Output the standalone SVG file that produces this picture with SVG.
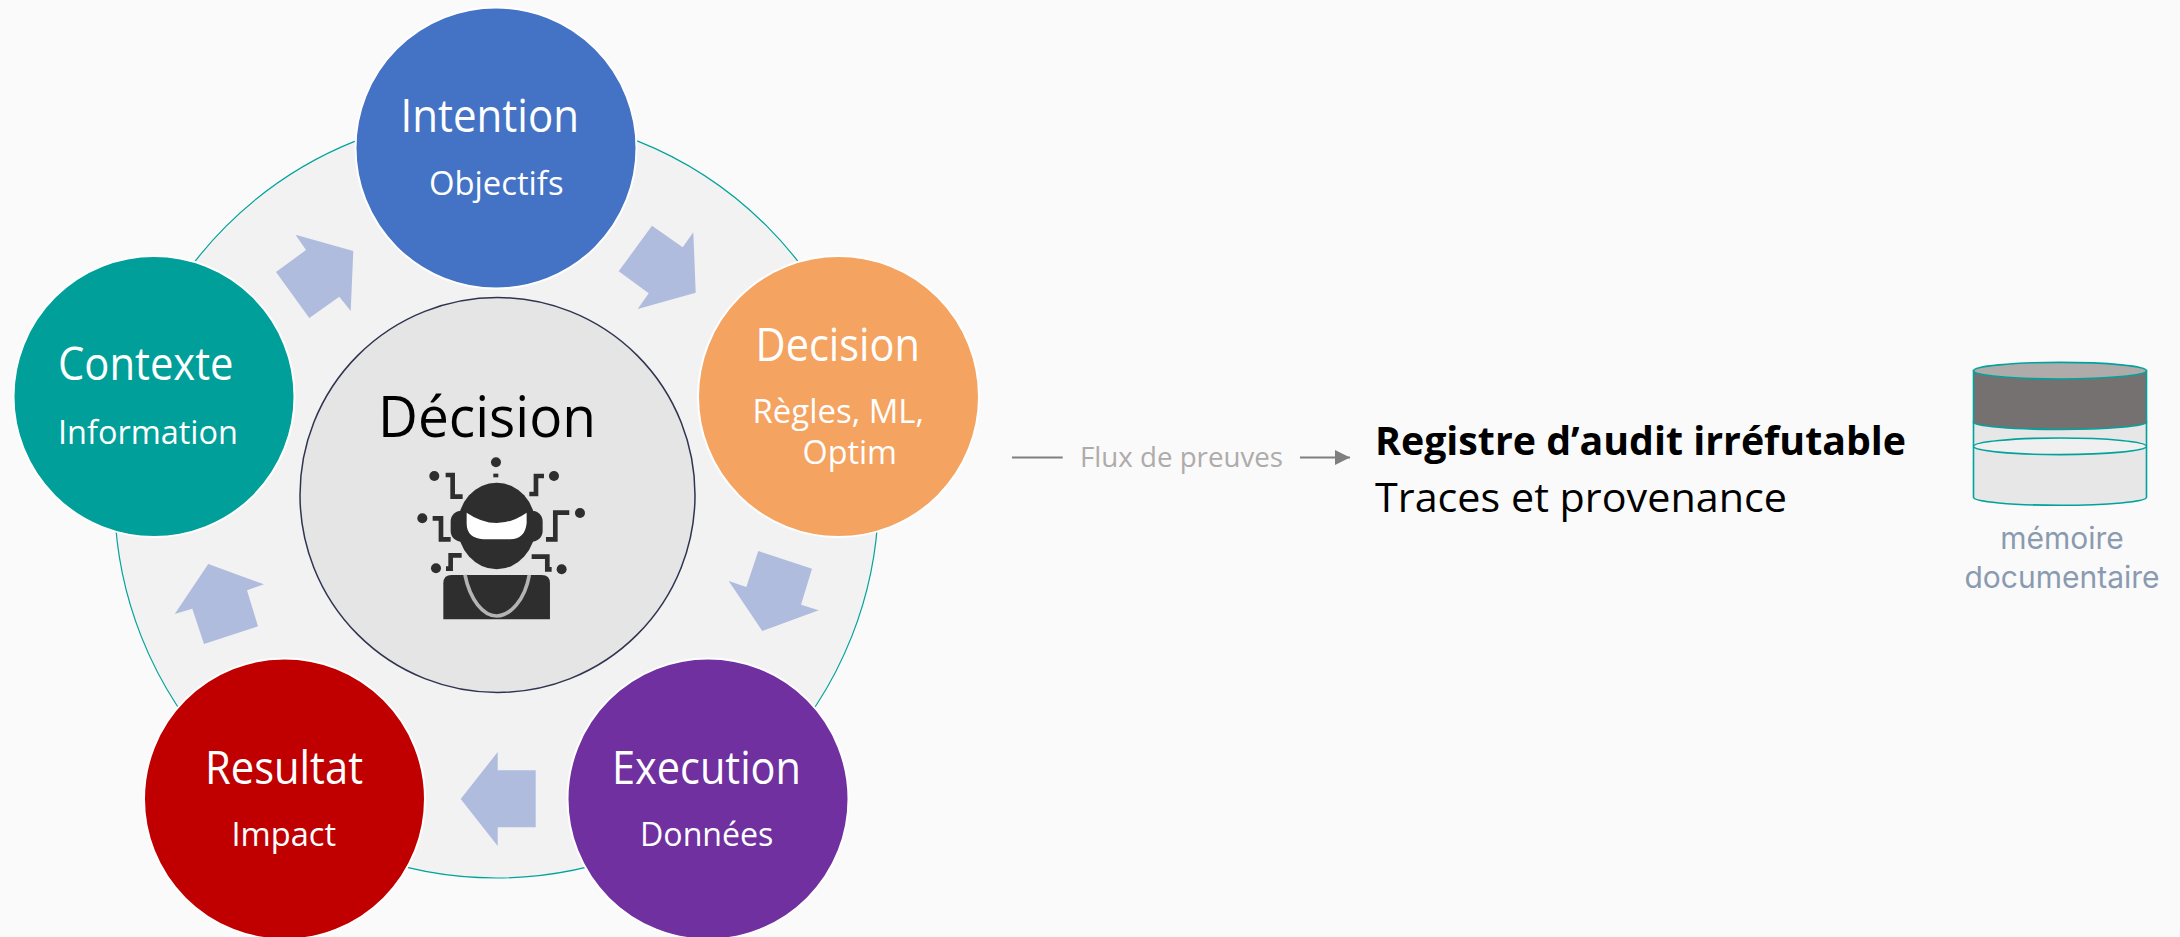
<svg xmlns="http://www.w3.org/2000/svg" width="2180" height="937" viewBox="0 0 2180 937">
<style>
.n{stroke:#fff;stroke-width:2}
.t{font-family:"Open Sans","Noto Sans",sans-serif;fill:#fff}
.h{font-size:45px}
.s{font-size:33px}
.c{fill:#b0bcde}
.w{fill:none;stroke:#2e2e2e;stroke-width:14}
.d{fill:#2e2e2e}
.cy{stroke:#00a39b;stroke-width:1.600}
.m{font-family:Inter,"Noto Sans",sans-serif;font-size:30px;fill:#8a9ab0;text-anchor:middle}
.r{font-family:"Open Sans","Noto Sans",sans-serif;font-size:40px;fill:#000}
</style>
<defs>
<filter id="soft" x="-5%" y="-5%" width="110%" height="110%"><feGaussianBlur stdDeviation="1.600"/></filter>
<marker id="ah" markerUnits="userSpaceOnUse" markerWidth="16" markerHeight="16" refX="15" refY="8" orient="auto"><path d="M0 0.500L15 8L0 15.500Z" fill="#7f7f7f"/></marker>
</defs>
<rect width="2180" height="937" fill="#fafafa"/>
<circle id="ring" cx="496.500" cy="496" r="382" fill="#f2f2f2" stroke="#00a39b" stroke-width="1.200"/>
<g id="connectors">
<polygon class="c" points="295.500,234.700 353.300,251 350.700,311 339.300,296.700 309.300,318 276,272 306,250"/>
<polygon class="c" points="652,225.700 682.700,247.300 693.300,232.300 695.700,292.700 637.700,309 648.700,293.300 618.700,271.300"/>
<polygon class="c" points="758.300,551 812,568.700 801,604.700 818.700,610.300 762.300,631 728.700,581 746.300,587"/>
<polygon class="c" points="497.700,752 497.700,770.300 535.700,770.300 535.700,827.300 497.700,827.300 497.700,846 460.700,799"/>
<polygon class="c" points="208.300,564 264,584.300 247,590.300 258,626.300 204,644 192.300,608.700 174.700,614"/>
<line x1="1012" y1="457.500" x2="1062.700" y2="457.500" stroke="#7f7f7f" stroke-width="2"/>
<line x1="1300" y1="457.500" x2="1350" y2="457.500" stroke="#7f7f7f" stroke-width="2" marker-end="url(#ah)"/>
</g>
<g id="node-intention">
<circle class="n" cx="496" cy="148" r="140.500" fill="#4472c4"/>
<text class="t h" x="400.500" y="131.500" textLength="178.500" lengthAdjust="spacingAndGlyphs">Intention</text>
<text class="t s" x="429" y="195" textLength="134.500" lengthAdjust="spacingAndGlyphs">Objectifs</text>
</g>
<g id="node-decision">
<circle class="n" cx="838.500" cy="396.500" r="140.500" fill="#f4a361"/>
<text class="t h" x="755.600" y="360.500" textLength="164.400" lengthAdjust="spacingAndGlyphs">Decision</text>
<text class="t s" x="752.500" y="422.500" textLength="171.500" lengthAdjust="spacingAndGlyphs">Règles, ML,</text>
<text class="t s" x="802.500" y="464" textLength="94.500" lengthAdjust="spacingAndGlyphs">Optim</text>
</g>
<g id="node-execution">
<circle class="n" cx="708" cy="799" r="140.500" fill="#7030a0"/>
<text class="t h" x="612" y="783.500" textLength="189" lengthAdjust="spacingAndGlyphs">Execution</text>
<text class="t s" x="640" y="845.500" textLength="133.400" lengthAdjust="spacingAndGlyphs">Données</text>
</g>
<g id="node-resultat">
<circle class="n" cx="284.500" cy="799" r="140.500" fill="#c00000"/>
<text class="t h" x="205" y="783.500" textLength="158" lengthAdjust="spacingAndGlyphs">Resultat</text>
<text class="t s" x="231.500" y="845.500" textLength="104.500" lengthAdjust="spacingAndGlyphs">Impact</text>
</g>
<g id="node-contexte">
<circle class="n" cx="154" cy="396.500" r="140.500" fill="#009f99"/>
<text class="t h" x="58" y="380" textLength="175.500" lengthAdjust="spacingAndGlyphs">Contexte</text>
<text class="t s" x="58" y="444.200" textLength="180" lengthAdjust="spacingAndGlyphs">Information</text>
</g>
<g id="node-center">
<circle cx="497.500" cy="495" r="197.500" fill="#e5e5e5" stroke="#2f3451" stroke-width="1.500"/>
<text x="378" y="436.700" font-family="'Open Sans','Noto Sans',sans-serif" font-size="57" fill="#000" textLength="218" lengthAdjust="spacingAndGlyphs">Décision</text>
<g id="robot" transform="translate(280 280) scale(.3333)" filter="url(#soft)">
<circle class="d" cx="648" cy="547" r="15"/><rect class="d" x="640" y="581" width="15" height="11"/>
<circle class="d" cx="463" cy="588" r="15"/><circle class="d" cx="822" cy="588" r="15"/>
<circle class="d" cx="427" cy="715" r="15"/><circle class="d" cx="900" cy="699" r="15"/>
<circle class="d" cx="468" cy="865" r="15"/><circle class="d" cx="845" cy="868" r="15"/>
<path class="w" d="M497 585H518V650H548"/><path class="w" d="M792 588H768V642H748"/>
<path class="w" d="M458 715H483V778H512"/><path class="w" d="M868 698H826V778H798"/>
<path class="w" d="M545 826H512V866H498"/><path class="w" d="M755 830H802V868H815"/>
<rect class="d" x="512" y="692" width="276" height="93" rx="32"/>
<ellipse class="d" cx="650" cy="738" rx="117" ry="130"/>
<path fill="#fff" d="M560 698Q650 760 740 698L740 730Q735 778 690 778H610Q560 775 560 730Z"/>
<path class="d" d="M490 910Q490 885 515 885H785Q810 885 810 910V1018H490Z"/>
<path fill="none" stroke="#b4b4b4" stroke-width="11" d="M555 885C570 960 610 1008 650 1008C690 1008 735 960 748 885"/>
</g>
</g>
<text x="1080" y="466.700" font-family="'Open Sans','Noto Sans',sans-serif" font-size="28" fill="#afabab" textLength="203" lengthAdjust="spacingAndGlyphs">Flux de preuves</text>
<g id="node-registre">
<text class="r" x="1375" y="455" font-weight="700" textLength="531" lengthAdjust="spacingAndGlyphs">Registre d’audit irréfutable</text>
<text class="r" x="1375" y="512" textLength="412" lengthAdjust="spacingAndGlyphs">Traces et provenance</text>
</g>
<g id="node-memoire">
<path class="cy" fill="#e7e7e7" d="M1973.500 422V497.300C1973.500 501.700 2012 505.300 2060 505.300S2146.500 501.700 2146.500 497.300V422Z"/>
<ellipse class="cy" cx="2060" cy="446.300" rx="86.500" ry="8.300" fill="#f0f0f0"/>
<path class="cy" fill="#767171" d="M1973.500 370.700V422.300C1973.500 426 2012 429.500 2060 429.500S2146.500 426 2146.500 422.300V370.700Z"/>
<ellipse class="cy" cx="2060" cy="370.700" rx="86.500" ry="8.300" fill="#afabab"/>
<text class="m" x="2062" y="549.300">mémoire</text>
<text class="m" x="2062" y="587.700">documentaire</text>
</g>
</svg>
